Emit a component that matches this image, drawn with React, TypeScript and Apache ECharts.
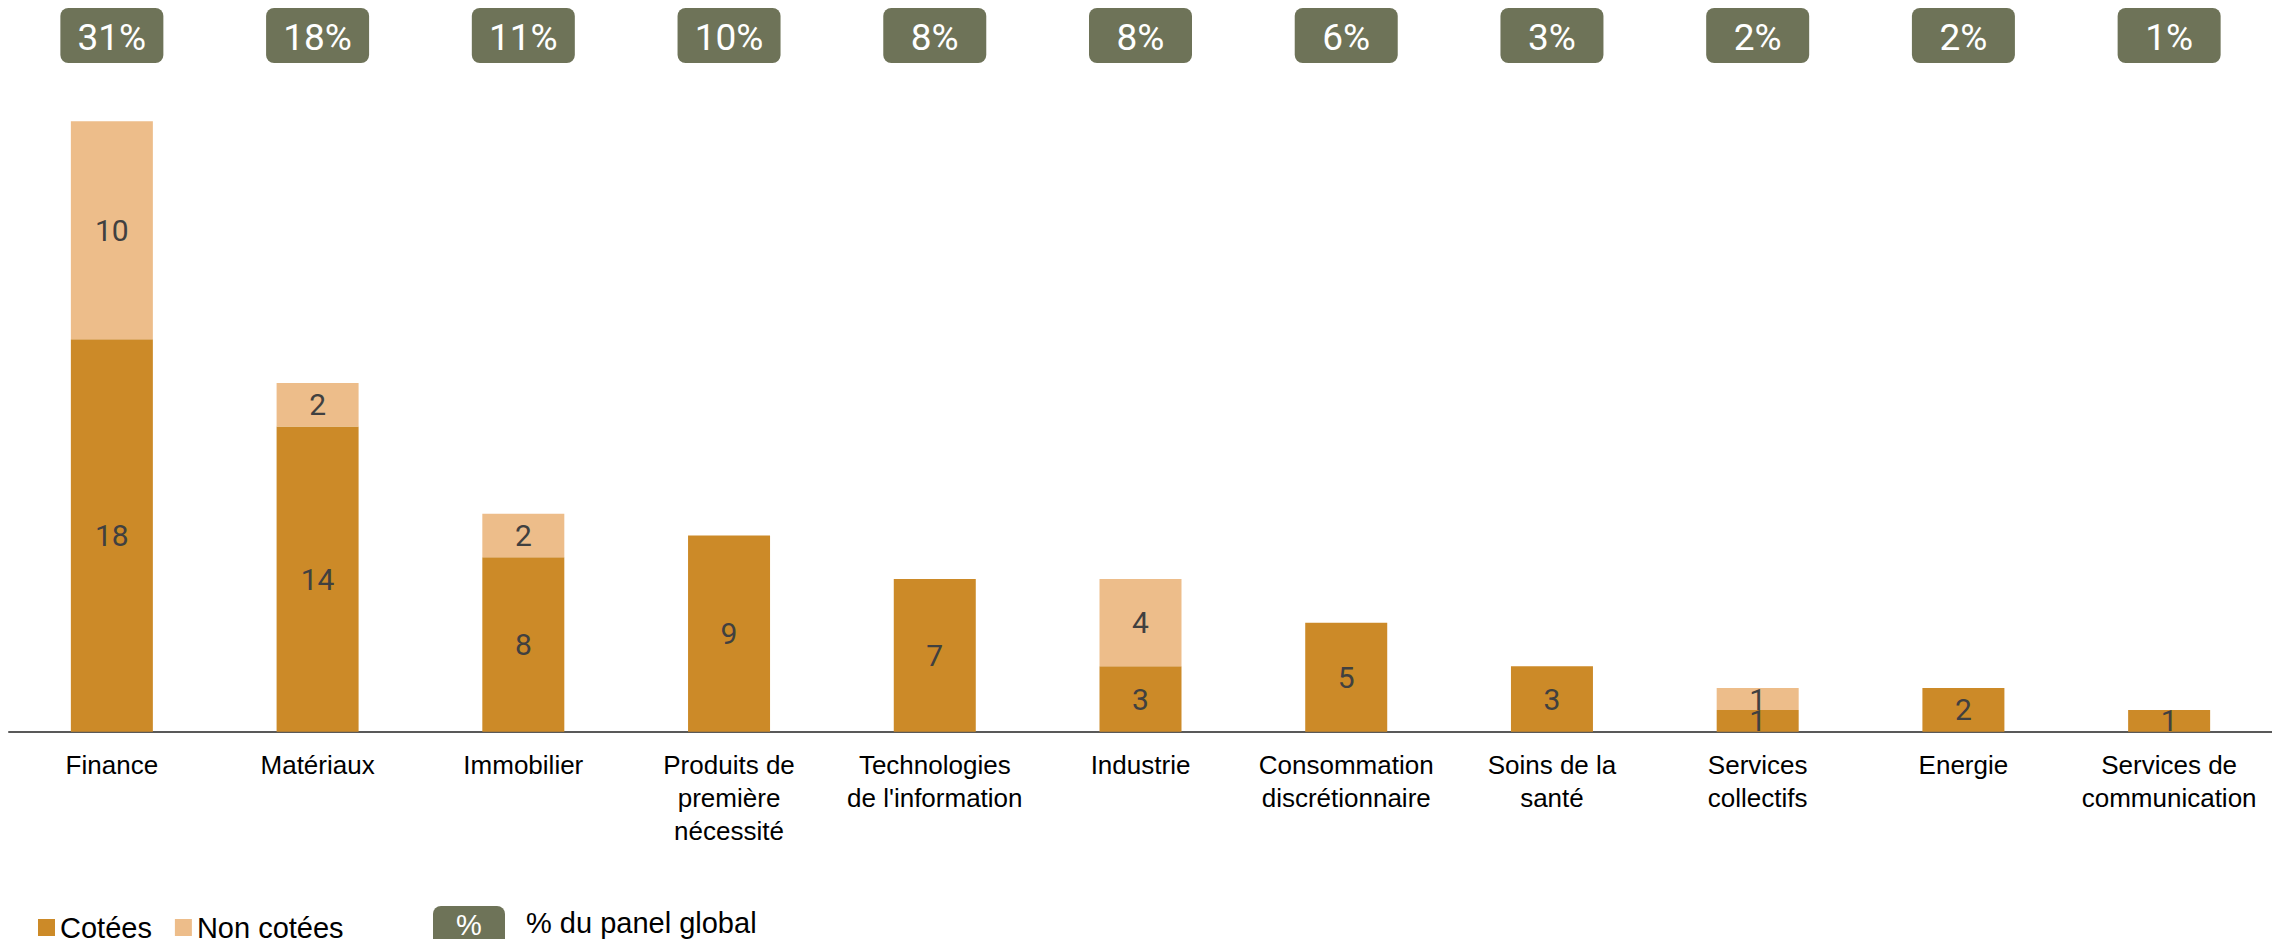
import React, { useEffect, useRef } from "react";
import * as echarts from "echarts";

const categories = [
  "Finance",
  "Matériaux",
  "Immobilier",
  "Produits de première nécessité",
  "Technologies de l'information",
  "Industrie",
  "Consommation discrétionnaire",
  "Soins de la santé",
  "Services collectifs",
  "Energie",
  "Services de communication",
];
const wrappedLabels = [
  "Finance",
  "Matériaux",
  "Immobilier",
  "Produits de\npremière\nnécessité",
  "Technologies\nde l'information",
  "Industrie",
  "Consommation\ndiscrétionnaire",
  "Soins de la\nsanté",
  "Services\ncollectifs",
  "Energie",
  "Services de\ncommunication",
];
const cotees = [18, 14, 8, 9, 7, 3, 5, 3, 1, 2, 1];
const nonCotees = [10, 2, 2, 0, 0, 4, 0, 0, 1, 0, 0];
const panelPct = [31, 18, 11, 10, 8, 8, 6, 3, 2, 2, 1];

const C_COTEES = "#cc8a28";
const C_NON = "#edbd8a";
const C_BADGE = "#6e7358";
const SANS = "'Liberation Sans', Arial, sans-serif";
const NUM = "Roboto, 'Noto Sans', sans-serif";

export default function App() {
  const ref = useRef<HTMLDivElement>(null);
  useEffect(() => {
    if (!ref.current) return;
    const chart = echarts.init(ref.current, undefined, { renderer: "svg" });
    const barLabel = {
      show: true,
      position: "inside",
      color: "#404040",
      fontSize: 30,
      fontFamily: NUM,
      formatter: (p: any) => (p.value ? String(p.value) : ""),
    };
    chart.setOption({
      animation: false,
      backgroundColor: "#ffffff",
      grid: { left: 9, right: -5, top: 121.3, bottom: 207.3, containLabel: false },
      legend: {
        data: ["Cotées", "Non cotées"],
        icon: "rect",
        itemWidth: 17,
        itemHeight: 17,
        itemGap: 23,
        left: 33,
        top: 908,
        textStyle: { fontSize: 29, fontFamily: SANS, color: "#000" },
      },
      xAxis: {
        type: "category",
        data: categories,
        axisLine: { show: true, lineStyle: { color: "#595959", width: 2 } },
        axisTick: { show: false },
        axisLabel: {
          interval: 0,
          margin: 17,
          fontSize: 26,
          lineHeight: 33,
          fontFamily: SANS,
          color: "#000",
          formatter: (_v: string, i: number) => wrappedLabels[i],
        },
      },
      yAxis: {
        type: "value",
        min: 0,
        max: 28,
        show: false,
        splitLine: { show: false },
      },
      series: [
        {
          name: "Cotées",
          type: "bar",
          stack: "total",
          barWidth: 82,
          data: cotees,
          itemStyle: { color: C_COTEES },
          label: barLabel,
        },
        {
          name: "Non cotées",
          type: "bar",
          stack: "total",
          barWidth: 82,
          data: nonCotees,
          itemStyle: { color: C_NON },
          label: barLabel,
        },
        {
          name: "% du panel global",
          type: "custom",
          clip: false,
          data: panelPct.map((v, i) => [i, v]),
          renderItem: (_params: any, api: any) => {
            const x = api.coord([api.value(0), 0])[0];
            const v = api.value(1);
            return {
              type: "group",
              children: [
                {
                  type: "rect",
                  shape: { x: x - 51.5, y: 8, width: 103, height: 55, r: 8 },
                  style: { fill: C_BADGE },
                },
                {
                  type: "text",
                  style: {
                    text: v + "%",
                    x: x,
                    y: 37,
                    align: "center",
                    verticalAlign: "middle",
                    fill: "#ffffff",
                    font: "37px " + NUM,
                  },
                },
              ],
            };
          },
        },
      ],
      graphic: [
        {
          type: "rect",
          shape: { x: 433, y: 906, width: 72, height: 50, r: 8 },
          style: { fill: C_BADGE },
        },
        {
          type: "text",
          style: {
            text: "%",
            x: 469,
            y: 925,
            align: "center",
            verticalAlign: "middle",
            fill: "#ffffff",
            font: "29px " + SANS,
          },
        },
        {
          type: "text",
          style: {
            text: "% du panel global",
            x: 526,
            y: 923,
            align: "left",
            verticalAlign: "middle",
            fill: "#000000",
            font: "29px " + SANS,
          },
        },
      ],
    });
    return () => chart.dispose();
  }, []);
  return (
    <div
      ref={ref}
      style={{ position: "absolute", left: 0, top: 0, width: 2272, height: 939 }}
    />
  );
}
